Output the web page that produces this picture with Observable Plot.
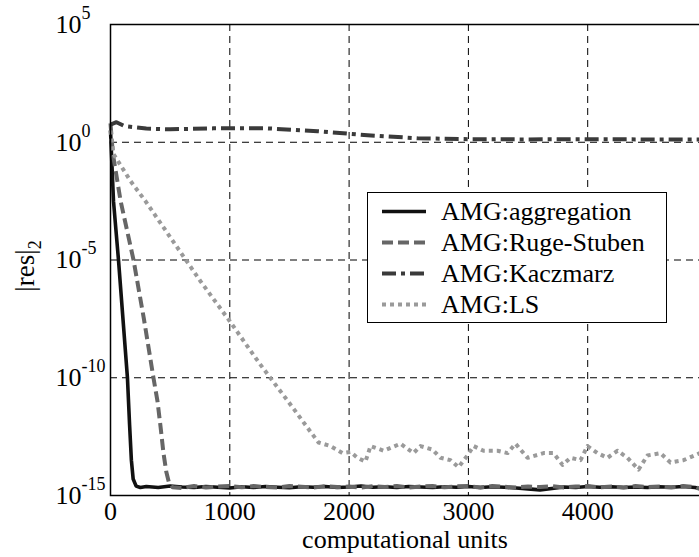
<!DOCTYPE html>
<html><head><meta charset="utf-8">
<script src="https://cdn.jsdelivr.net/npm/d3@7"></script>
<script src="https://cdn.jsdelivr.net/npm/@observablehq/plot@0.6"></script>
<style>
html,body{margin:0;padding:0;background:#fff;overflow:hidden;width:699px;height:557px;}
#wrap{position:relative;width:699px;height:557px;overflow:hidden;}
#wrap > svg{position:absolute;left:0;top:0;max-width:none !important;width:707px !important;height:557px !important;}
#legend{position:absolute;left:367px;top:192px;width:300px;height:131px;border:1.2px solid #000;background:#fff;box-sizing:border-box;font-family:"Liberation Serif","Times New Roman",serif;font-size:26px;color:#000;}
#legend .row{position:absolute;left:0;height:31px;line-height:31px;white-space:nowrap;}
#legend svg{position:absolute;left:14px;top:0;}
#legend span{position:absolute;left:73px;top:0;}
</style></head><body><div id="wrap"></div>
<script>
// ---- data ----
const xTicks = [0, 1000, 2000, 3000, 4000];
const yTickExps = [5, 0, -5, -10, -15];
const seriesNames = ["AMG:aggregation", "AMG:Ruge-Stuben", "AMG:Kaczmarz", "AMG:LS"];
const seriesColors = ["#111111", "#666666", "#3a3a3a", "#9a9a9a"];
const seriesDash = [null, "11,5", "14,5,4,5", "4,4"];
const seriesWidth = [3.6, 4, 4, 4];

// x: computational units, e: log10 of |res|_2
const aggX = [0, 25, 67, 142, 160, 175, 190, 215, 250, 300, 400, 500, 600, 700, 800, 900, 1000, 1100, 1200, 1300, 1400, 1500, 1600, 1700, 1800, 1900, 2000, 2100, 2200, 2300, 2400, 2500, 2600, 2700, 2800, 2900, 3000, 3100, 3200, 3300, 3400, 3500, 3600, 3700, 3800, 3900, 4000, 4100, 4200, 4300, 4400, 4500, 4600, 4700, 4800, 4900, 4940];
const aggE = [0.5, -2.5, -5, -10, -12, -13.5, -14.3, -14.6, -14.66, -14.62, -14.66, -14.6, -14.64, -14.66, -14.62, -14.65, -14.68, -14.63, -14.66, -14.62, -14.65, -14.67, -14.63, -14.65, -14.62, -14.66, -14.64, -14.6, -14.65, -14.63, -14.66, -14.62, -14.64, -14.66, -14.63, -14.65, -14.62, -14.66, -14.63, -14.65, -14.68, -14.72, -14.76, -14.7, -14.64, -14.66, -14.62, -14.65, -14.63, -14.66, -14.64, -14.66, -14.63, -14.65, -14.62, -14.66, -14.7];

const rsX = [0, 20, 85, 193, 280, 360, 394, 420, 444, 468, 490, 520, 600, 700, 800, 900, 1000, 1100, 1200, 1300, 1400, 1500, 1600, 1700, 1800, 1900, 2000, 2100, 2200, 2300, 2400, 2500, 2600, 2700, 2800, 2900, 3000, 3100, 3200, 3300, 3400, 3500, 3600, 3700, 3800, 3900, 4000, 4100, 4200, 4300, 4400, 4500, 4600, 4700, 4800, 4900, 4940];
const rsE = [0.8, -0.5, -2.5, -5, -7.5, -10, -11, -12.1, -13.2, -14.0, -14.45, -14.65, -14.68, -14.6, -14.66, -14.62, -14.6, -14.65, -14.6, -14.64, -14.66, -14.6, -14.63, -14.66, -14.6, -14.64, -14.62, -14.66, -14.6, -14.64, -14.6, -14.66, -14.62, -14.6, -14.65, -14.61, -14.6, -14.66, -14.6, -14.63, -14.66, -14.62, -14.64, -14.6, -14.66, -14.62, -14.6, -14.65, -14.62, -14.66, -14.6, -14.64, -14.62, -14.66, -14.6, -14.64, -14.72];

const kzX = [0, 50, 120, 300, 500, 863, 1316, 1735, 2154, 2573, 3000, 3500, 4000, 4500, 4940];
const kzE = [0.75, 0.85, 0.68, 0.58, 0.55, 0.59, 0.59, 0.47, 0.30, 0.17, 0.13, 0.12, 0.13, 0.12, 0.12];

const lsX = [0, 25, 168, 293, 754, 1000, 1250, 1534, 1651, 1744, 1844, 1945, 2012, 2070, 2137, 2180, 2290, 2431, 2540, 2598, 2699, 2766, 2850, 2917, 2992, 3043, 3127, 3244, 3328, 3395, 3495, 3630, 3713, 3789, 3856, 3940, 3998, 4082, 4166, 4250, 4334, 4426, 4501, 4610, 4694, 4803, 4940];
const lsE = [0.5, -0.5, -1.65, -2.5, -5.9, -7.6, -9.4, -11.31, -12.12, -12.75, -12.9, -13.2, -13.15, -13.4, -13.56, -12.9, -13.1, -12.8, -13.2, -12.9, -13.05, -13.4, -13.5, -13.8, -13.3, -12.9, -13.1, -13.1, -13.2, -12.8, -13.4, -13.2, -13.2, -13.7, -13.4, -13.5, -12.9, -13.2, -13.4, -13.1, -13.4, -13.9, -13.3, -13.2, -13.6, -13.5, -13.2];

// ---- build ----
const seriesXs = [aggX, rsX, kzX, lsX];
const seriesEs = [aggE, rsE, kzE, lsE];
const seriesData = seriesNames.map((name, k) => seriesXs[k].map((x, i) => ({series: name, x, y: Math.pow(10, seriesEs[k][i])})));
const yTickVals = yTickExps.map(e => Math.pow(10, e));
const gridYVals = yTickVals.filter(v => v < 1e5 && v > 1e-15);
const gridXVals = xTicks.filter(v => v > 0);

const font = '"Liberation Serif","Times New Roman",serif';
const chart = Plot.plot({
  width: 707, height: 557,
  marginLeft: 110, marginRight: 0.5, marginTop: 24, marginBottom: 62,
  style: {fontFamily: font, fontSize: "26px", background: "transparent", color: "#000", overflow: "visible", maxWidth: "none"},
  x: {domain: [0, 5000]},
  y: {type: "log", domain: [1e-15, 1e5]},
  marks: [
    Plot.gridX(gridXVals, {stroke: "#000", strokeOpacity: 1, strokeWidth: 1, strokeDasharray: "7,5"}),
    Plot.gridY(gridYVals, {stroke: "#000", strokeOpacity: 1, strokeWidth: 1, strokeDasharray: "7,5"}),
    ...seriesData.map((data, k) => Plot.line(data, {
      x: "x", y: "y",
      stroke: seriesColors[k], strokeWidth: seriesWidth[k],
      strokeDasharray: seriesDash[k] || undefined,
      strokeLinecap: "butt", strokeLinejoin: "round", curve: "linear"
    })),
    Plot.frame({stroke: "#000", strokeWidth: 1.5}),
    Plot.axisX(xTicks, {tickSize: 0, tickPadding: 6, fontSize: 26, label: null, tickFormat: d => String(d)}),
    Plot.axisY(yTickVals, {tickSize: 0, tickPadding: 0, textAnchor: "start", dx: -55, fontSize: 26, label: null,
      tickFormat: v => "10^" + Math.round(Math.log10(v))})
  ]
});
document.getElementById("wrap").appendChild(chart);

// superscripts for y tick labels
d3.select(chart).selectAll("text").each(function () {
  const t = d3.select(this);
  const txt = this.textContent;
  const m = /^10\^(-?\d+)$/.exec(txt.replace("\u2212", "-"));
  if (m) {
    const tgt = t.select("tspan").empty() ? t : t.select("tspan");
    tgt.text(null);
    tgt.append("tspan").text("10");
    tgt.append("tspan").attr("dy", "-14").attr("font-size", "18px").text(m[1]);
  }
});

// axis titles
const svg = d3.select(chart);
svg.append("text").attr("x", 405).attr("y", 548).attr("text-anchor", "middle")
  .attr("font-family", font).attr("font-size", 26).attr("fill", "#000").text("computational units");
const yl = svg.append("text").attr("transform", "translate(34,266) rotate(-90)").attr("text-anchor", "middle")
  .attr("font-family", font).attr("font-size", 27).attr("fill", "#000");
yl.append("tspan").text("|res|");
yl.append("tspan").attr("dy", 7).attr("font-size", "18px").text("2");

// legend
const leg = document.createElement("div");
leg.id = "legend";
seriesNames.forEach((name, k) => {
  const row = document.createElement("div");
  row.className = "row";
  row.style.top = (3 + k * 31) + "px";
  row.style.width = "100%";
  const s = d3.create("svg").attr("width", 44).attr("height", 31);
  s.append("line").attr("x1", 0).attr("x2", 44).attr("y1", 15.5).attr("y2", 15.5)
    .attr("stroke", seriesColors[k]).attr("stroke-width", seriesWidth[k])
    .attr("stroke-dasharray", seriesDash[k]).attr("stroke-linecap", "butt");
  row.appendChild(s.node());
  const sp = document.createElement("span");
  sp.textContent = name;
  row.appendChild(sp);
  leg.appendChild(row);
});
document.getElementById("wrap").appendChild(leg);
</script>
</body></html>
